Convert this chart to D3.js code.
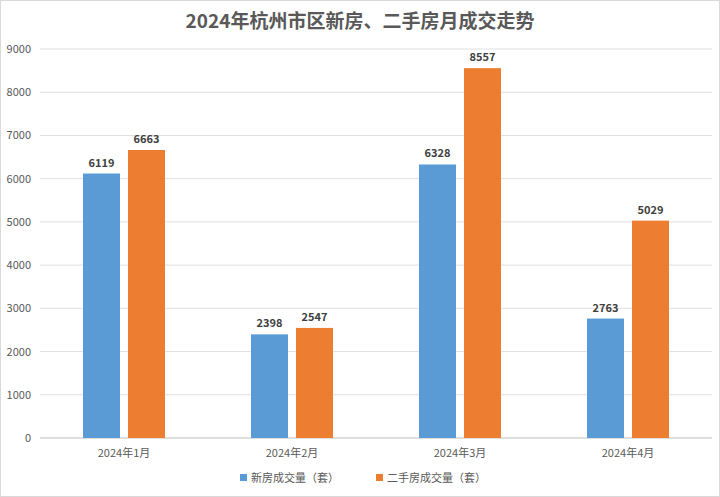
<!DOCTYPE html>
<html><head><meta charset="utf-8">
<script src="https://cdn.jsdelivr.net/npm/d3@7"></script>
<style>body{margin:0;background:#fff;font-family:"Noto Sans CJK SC","Noto Sans",sans-serif}</style>
</head><body><svg id="c" width="720" height="497"></svg>
<script>
const categories=["2024年1月","2024年2月","2024年3月","2024年4月"];
const seriesNames=["新房成交量（套）","二手房成交量（套）"];
const newHomes=[6119,2398,6328,2763];
const secondHand=[6663,2547,8557,5029];
const yTicks=[0,1000,2000,3000,4000,5000,6000,7000,8000,9000];
const colors=["#5b9bd5","#ed7d31"];
const svg=d3.select("#c");
const L=40,R=712,T=49,B=438;
const x=d3.scaleBand().domain(categories).range([L,R]);
const y=d3.scaleLinear().domain([0,9000]).range([B,T]);
svg.append("rect").attr("x",0.5).attr("y",0.5).attr("width",719).attr("height",496).attr("fill","#fff").attr("stroke","#d9d9d9");
svg.append("text").attr("x",360).attr("y",28).attr("text-anchor","middle").attr("font-size",19).attr("font-weight","bold").attr("fill","#595959").text("2024年杭州市区新房、二手房月成交走势");
svg.selectAll(".g").data(yTicks).enter().append("line").attr("x1",L).attr("x2",R).attr("y1",d=>y(d)).attr("y2",d=>y(d)).attr("stroke",d=>d===0?"#bfbfbf":"#e0e0e0");
svg.selectAll(".yl").data(yTicks).enter().append("text").attr("x",31).attr("y",d=>y(d)+4).attr("text-anchor","end").attr("font-size",11).attr("fill","#595959").text(d=>d);
svg.selectAll(".xl").data(categories).enter().append("text").attr("x",d=>x(d)+x.bandwidth()/2).attr("y",457).attr("text-anchor","middle").attr("font-size",11).attr("fill","#595959").text(d=>d);
const bw=37,gap=8;
[newHomes,secondHand].forEach((vals,s)=>{
  const off=s===0?-gap/2-bw:gap/2;
  const g=svg.append("g");
  g.selectAll("rect").data(vals).enter().append("rect")
   .attr("x",(d,i)=>x(categories[i])+x.bandwidth()/2+off).attr("y",d=>y(d)).attr("width",bw).attr("height",d=>B-y(d)).attr("fill",colors[s]);
  g.selectAll("text").data(vals).enter().append("text")
   .attr("x",(d,i)=>x(categories[i])+x.bandwidth()/2+off+bw/2).attr("y",d=>y(d)-7).attr("text-anchor","middle").attr("font-size",11).attr("font-weight","bold").attr("fill","#404040").text(d=>d);
});
const lg=[{x:240},{x:376}];
seriesNames.forEach((n,i)=>{
  svg.append("rect").attr("x",lg[i].x).attr("y",474).attr("width",7).attr("height",7).attr("fill",colors[i]);
  svg.append("text").attr("x",lg[i].x+11).attr("y",482).attr("font-size",11).attr("fill","#595959").text(n);
});
</script></body></html>
